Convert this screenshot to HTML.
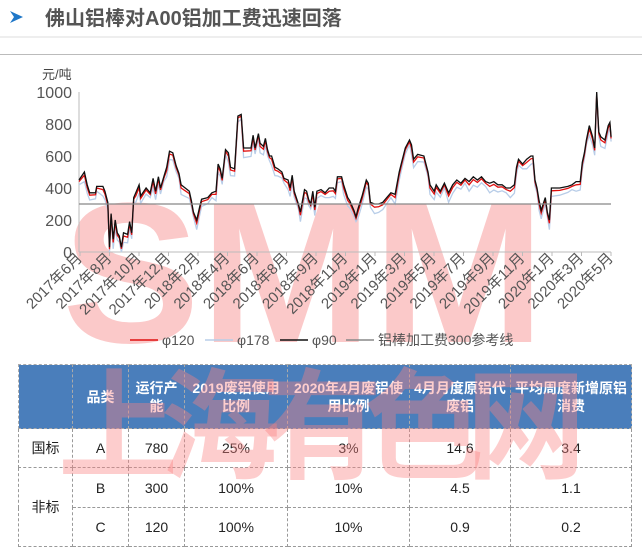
<!DOCTYPE html>
<html><head><meta charset="utf-8"><style>
body{margin:0;width:642px;height:551px;background:#fff;overflow:hidden;position:relative;font-family:"Liberation Sans","Noto Sans CJK SC",sans-serif}
.abs{position:absolute}
table{border-collapse:collapse;position:absolute;left:18px;top:364px;table-layout:fixed}
td{border:1px dashed #999;text-align:center;font-size:14px;color:#222;padding:0;line-height:18px}
th{border:1px dashed #aaa;background:#4a7ebb;color:#fff;font-size:14px;font-weight:bold;line-height:18px;padding:0}
</style></head><body>
<svg class="abs" style="left:0;top:0" width="642" height="551">
<polygon points="10,11 23,17 10,23 14,17" fill="#1f77c8"/>
<text x="45" y="25" font-size="20" font-weight="bold" fill="#555" font-family="Liberation Sans,Noto Sans CJK SC,sans-serif">佛山铝棒对A00铝加工费迅速回落</text>
<line x1="0" y1="37" x2="642" y2="37" stroke="#ddd"/>
<line x1="0" y1="54.5" x2="642" y2="54.5" stroke="#bbb"/>
<text x="62" y="342" font-size="200" font-weight="bold" fill="#fbc9c9" font-family="Liberation Sans,sans-serif" textLength="483" lengthAdjust="spacingAndGlyphs">SMM</text>
<g id="ch"></g>
</svg>
<table>
<colgroup><col style="width:54px"><col style="width:56px"><col style="width:56px"><col style="width:103px"><col style="width:122px"><col style="width:101px"><col style="width:121px"></colgroup>
<tr style="height:64px"><th></th><th>品类</th><th>运行产<br>能</th><th>2019废铝使用<br>比例</th><th>2020年4月废铝使<br>用比例</th><th>4月月度原铝代<br>废铝</th><th>平均周度新增原铝<br>消费</th></tr>
<tr style="height:39px"><td>国标</td><td>A</td><td>780</td><td>25%</td><td>3%</td><td>14.6</td><td>3.4</td></tr>
<tr style="height:40px"><td rowspan="2">非标</td><td>B</td><td>300</td><td>100%</td><td>10%</td><td>4.5</td><td>1.1</td></tr>
<tr style="height:39px"><td>C</td><td>120</td><td>100%</td><td>10%</td><td>0.9</td><td>0.2</td></tr>
</table>
<div class="abs" style="left:58px;top:352px;width:510px;height:130px;font-size:120px;font-weight:bold;color:rgba(250,130,130,0.4);line-height:130px;letter-spacing:-18px;font-family:'Noto Sans CJK SC',sans-serif;white-space:nowrap">上海有色网</div>
<script>
var d=[192,450,205,500,212,420,218,370,232,370,235,410,250,410,255,380,262,310,266,30,270,240,275,80,280,200,285,120,290,100,295,30,300,120,310,110,315,190,320,120,325,340,330,370,338,420,342,350,355,400,365,370,372,460,378,380,385,470,390,400,398,470,405,530,412,630,420,620,428,540,435,490,440,420,450,400,460,380,465,320,470,250,478,200,485,280,490,330,505,340,515,370,525,380,530,550,535,520,540,460,548,640,555,620,560,530,570,520,578,850,586,860,592,650,610,650,615,730,620,650,628,740,632,680,640,660,645,710,650,640,655,600,660,600,668,530,675,520,685,500,690,460,700,450,705,400,710,480,715,380,725,300,730,250,740,390,745,380,750,330,755,300,760,380,765,280,770,380,780,390,790,370,800,400,810,400,815,380,820,470,830,470,835,420,845,340,850,320,860,260,865,220,870,270,880,350,890,450,895,430,900,310,910,300,920,300,930,310,940,340,950,370,960,360,970,500,975,550,985,650,995,700,1000,670,1005,580,1015,610,1030,600,1040,500,1045,420,1055,380,1060,420,1070,380,1080,430,1090,370,1100,420,1110,450,1120,430,1130,460,1140,440,1150,470,1160,450,1170,470,1180,440,1190,430,1200,440,1210,420,1220,420,1230,400,1240,400,1250,420,1255,530,1260,580,1270,550,1280,580,1290,600,1295,600,1300,450,1305,400,1310,320,1315,260,1320,300,1325,340,1330,250,1335,200,1340,400,1360,400,1380,410,1390,420,1400,440,1410,440,1415,560,1420,620,1425,700,1432,790,1440,720,1445,650,1450,1000,1455,750,1460,720,1470,700,1478,790,1482,810,1485,720];
function Y(v){return 252-Math.max(0,v)*0.16}
function pl(off,amp){var s=[];for(var i=0;i<d.length;i+=2){var x=d[i]/2.43,v=d[i+1]-off-amp*((i*7)%5)/4;s.push(x.toFixed(1)+','+Y(v).toFixed(1))}return s.join(' ')}
var g='';
g+='<line x1="79" y1="92" x2="79" y2="252" stroke="#bbb"/><line x1="79" y1="252" x2="611" y2="252" stroke="#bbb"/>';
for(var v=0;v<=1000;v+=200){g+='<text x="72" y="'+(Y(v)+6)+'" font-size="16" fill="#555" text-anchor="end">'+v+'</text>';}
g+='<text x="42" y="79" font-size="13" fill="#444">元/吨</text>';
var labs=['2017年6月','2017年8月','2017年10月','2017年12月','2018年2月','2018年4月','2018年6月','2018年8月','2018年9月','2018年11月','2019年1月','2019年3月','2019年5月','2019年7月','2019年9月','2019年11月','2020年1月','2020年3月','2020年5月'];
for(var i=0;i<labs.length;i++){var x=83+i*29.5;g+='<line x1="'+(x-3)+'" y1="252" x2="'+(x-3)+'" y2="256" stroke="#bbb"/><text transform="translate('+x+',259) rotate(-45)" font-size="15" fill="#555" text-anchor="end">'+labs[i]+'</text>';}
g+='<polyline fill="none" stroke="#b8cde8" stroke-width="1.3" points="'+pl(30,30)+'"/>';
g+='<polyline fill="none" stroke="#e01010" stroke-width="1.3" points="'+pl(10,10)+'"/>';
g+='<polyline fill="none" stroke="#111" stroke-width="1.3" points="'+pl(0,0)+'"/>';
g+='<line x1="79" y1="204" x2="611" y2="204" stroke="#888" stroke-width="1.2"/>';
var lg=[[130,'#e01010','φ120'],[205,'#b8cde8','φ178'],[280,'#111','φ90'],[346,'#888','铝棒加工费300参考线']];
lg.forEach(function(l){g+='<line x1="'+l[0]+'" y1="340" x2="'+(l[0]+28)+'" y2="340" stroke="'+l[1]+'" stroke-width="1.5"/><text x="'+(l[0]+32)+'" y="345" font-size="14" fill="#555">'+l[2]+'</text>';});
document.getElementById('ch').innerHTML=g;
</script>
</body></html>
